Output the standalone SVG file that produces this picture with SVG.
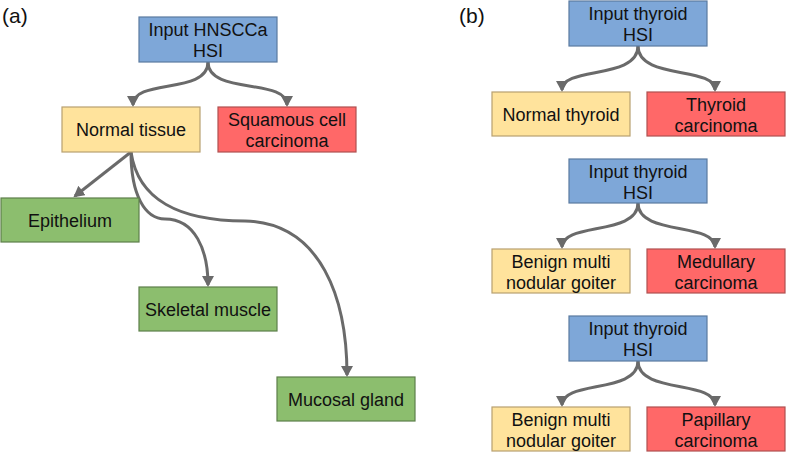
<svg xmlns="http://www.w3.org/2000/svg" width="787" height="452" viewBox="0 0 787 452">
<style>
  text { font-family: "Liberation Sans", Arial, sans-serif; font-size: 18px; fill: #111; text-anchor: middle; }
  .lbl { text-anchor: start; font-size: 21px; }
  rect { stroke-width: 1.2; }
  .blue { fill: #7ea7d8; stroke: #5a7aa0; }
  .yellow { fill: #ffe39c; stroke: #b8a070; }
  .red { fill: #ff6868; stroke: #b05050; }
  .green { fill: #8cbe6e; stroke: #5d7f4a; }
  .conn path { fill: none; stroke: #6a6a6a; stroke-width: 3; marker-end: url(#arr); }
</style>
<defs>
  <marker id="arr" markerUnits="userSpaceOnUse" markerWidth="14" markerHeight="14" refX="9" refY="6" orient="auto">
    <path d="M0,0 L11,6 L0,12 Z" fill="#6a6a6a"/>
  </marker>
</defs>
<rect width="787" height="452" fill="#fff"/>
<text class="lbl" x="2" y="23">(a)</text>
<text class="lbl" x="459" y="23">(b)</text>

<g class="conn">
  <path d="M208,62 C208,95 133,78 133,105"/>
  <path d="M208,62 C208,95 287,78 287,105"/>
  <path d="M131,152 L75,196"/>
  <path d="M131,152 C131,195 145,219 165,219 C195,219 208,250 208,285"/>
  <path d="M131,152 C138,200 180,221 245,221 C322,223 347,300 347,375"/>
  <path d="M638,46 C638,80 562,66 562,90"/>
  <path d="M638,46 C638,80 715,66 715,90"/>
  <path d="M638,203 C638,236 562,222 562,247"/>
  <path d="M638,203 C638,236 715,222 715,247"/>
  <path d="M638,361 C638,394 562,380 562,405"/>
  <path d="M638,361 C638,394 715,380 715,405"/>
</g>

<g id="input_a"><rect class="blue" x="139" y="17" width="138" height="45"/><text x="208" y="36">Input HNSCCa</text><text x="208" y="57">HSI</text></g>
<g id="normal_tissue"><rect class="yellow" x="62" y="107" width="138" height="45"/><text x="131" y="136">Normal tissue</text></g>
<g id="squamous"><rect class="red" x="218" y="107" width="138" height="45"/><text x="287" y="126">Squamous cell</text><text x="287" y="147">carcinoma</text></g>
<g id="epithelium"><rect class="green" x="1" y="198" width="138" height="44"/><text x="70" y="227">Epithelium</text></g>
<g id="skeletal"><rect class="green" x="139" y="287" width="138" height="44"/><text x="208" y="316">Skeletal muscle</text></g>
<g id="mucosal"><rect class="green" x="277" y="377" width="138" height="44"/><text x="346" y="406">Mucosal gland</text></g>

<g id="input_b1"><rect class="blue" x="569" y="1" width="138" height="45"/><text x="638" y="20">Input thyroid</text><text x="638" y="41">HSI</text></g>
<g id="normal_thyroid"><rect class="yellow" x="492" y="92" width="138" height="44"/><text x="561" y="121">Normal thyroid</text></g>
<g id="thyroid_carcinoma"><rect class="red" x="647" y="92" width="138" height="44"/><text x="716" y="111">Thyroid</text><text x="716" y="132">carcinoma</text></g>

<g id="input_b2"><rect class="blue" x="569" y="159" width="138" height="44"/><text x="638" y="178">Input thyroid</text><text x="638" y="199">HSI</text></g>
<g id="benign_b2"><rect class="yellow" x="492" y="249" width="138" height="44"/><text x="561" y="268">Benign multi</text><text x="561" y="289">nodular goiter</text></g>
<g id="medullary"><rect class="red" x="647" y="249" width="138" height="44"/><text x="716" y="268">Medullary</text><text x="716" y="289">carcinoma</text></g>

<g id="input_b3"><rect class="blue" x="569" y="316" width="138" height="45"/><text x="638" y="335">Input thyroid</text><text x="638" y="356">HSI</text></g>
<g id="benign_b3"><rect class="yellow" x="492" y="407" width="138" height="44"/><text x="561" y="426">Benign multi</text><text x="561" y="447">nodular goiter</text></g>
<g id="papillary"><rect class="red" x="647" y="407" width="138" height="44"/><text x="716" y="426">Papillary</text><text x="716" y="447">carcinoma</text></g>
</svg>
